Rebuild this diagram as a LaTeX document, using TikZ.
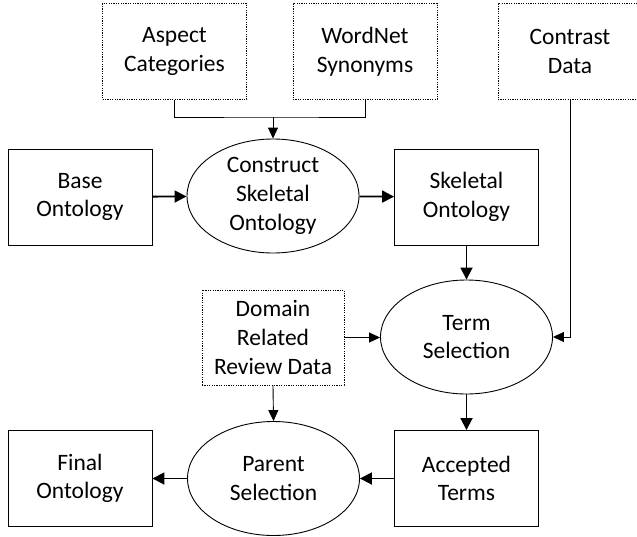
\documentclass[tikz,border=0pt]{standalone}
\usepackage{fontspec}
\setmainfont{Carlito}
\usetikzlibrary{arrows.meta,shapes.geometric}

\begin{document}
\begin{tikzpicture}[
  x=1pt,y=-1pt,
  box/.style={draw,line width=0.9pt,align=center,inner sep=0pt,minimum width=144pt,minimum height=96pt,font=\fontsize{23.5}{28.7}\selectfont},
  databox/.style={box,dash pattern=on 1.2pt off 1.2pt},
  process/.style={box,ellipse,minimum width=172pt,minimum height=114pt},
  arrow/.style={-{Triangle[length=12pt,width=12pt]},line width=1.8pt},
  thinarrow/.style={-{Triangle[length=11pt,width=10pt]},line width=0.9pt}
]
\useasboundingbox (0,0) rectangle (637,536);
% inputs
\node[databox] (aspect) at (174.5,51.5) {Aspect\\Categories};
\node[databox] (wordnet) at (365,51.5) {WordNet\\Synonyms};
\node[databox] (contrast) at (570,51.5) {Contrast\\Data};
\node[databox,minimum width=142pt,minimum height=95pt] (domain) at (273,337.5) {Domain\\Related\\Review Data};
% main flow
\node[box] (base) at (80,197) {Base\\Ontology};
\node[process] (construct) at (273,196) {Construct\\Skeletal\\Ontology};
\node[box] (skeletal) at (466.5,197) {Skeletal\\Ontology};
\node[process] (term) at (466.5,337) {Term\\Selection};
\node[box] (accepted) at (466.5,478.5) {Accepted\\Terms};
\node[process] (parent) at (273.5,478.5) {Parent\\Selection};
\node[box] (final) at (80,478.5) {Final\\Ontology};
\coordinate (merge) at (273,117);
\foreach \a/\b in {base/construct,construct/skeletal,skeletal/term,term/accepted,accepted/parent,parent/final}
  \draw[arrow] (\a) -- (\b);
\draw[line width=0.9pt] (aspect.south) |- (merge) -| (wordnet.south);
\draw[thinarrow] (merge) -- (construct.north);
\draw[thinarrow] (contrast.south) |- (term.east);
\draw[thinarrow] (domain.east) -- (domain.east -| term.west);
\draw[thinarrow] (domain.south) -- (parent.north);
\end{tikzpicture}
\end{document}
